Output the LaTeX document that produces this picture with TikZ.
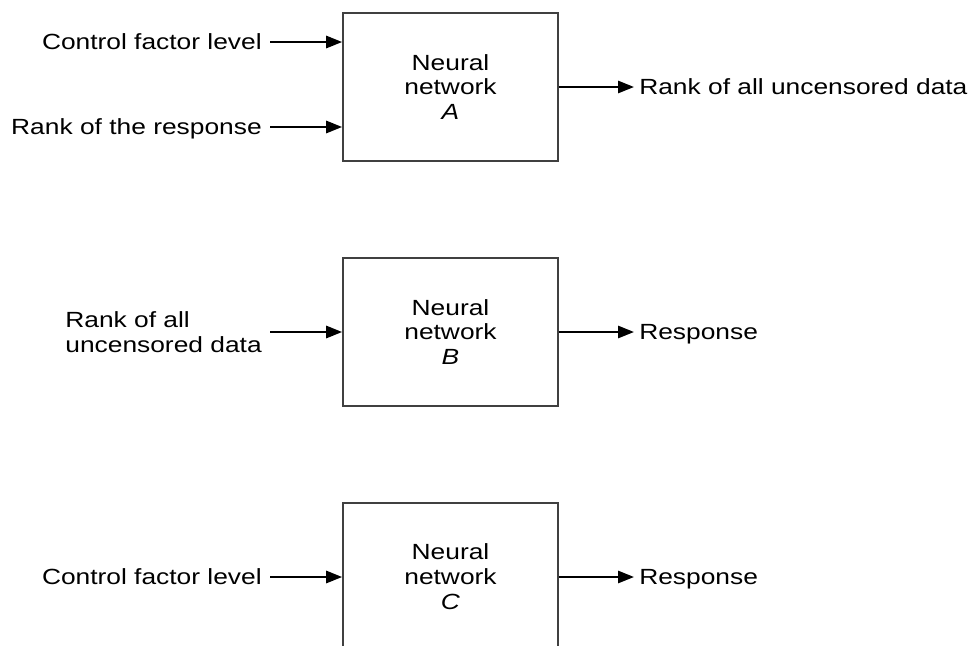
\documentclass[tikz,border=0pt]{standalone}
\usepackage{fontspec}
\setmainfont[FakeStretch=1.2]{Liberation Sans}
\usetikzlibrary{positioning,arrows.meta}

\begin{document}
\begin{tikzpicture}[x=0.02cm,y=-0.02cm]
	\tikzstyle{every node}=[font=\fontsize{12.5}{14.2}\selectfont]
	\tikzstyle{net}=[draw=black!75, line width=1.1pt, minimum width=4.3cm, minimum height=2.96cm, align=center, inner sep=0pt]
	\tikzstyle{inlbl}=[inner xsep=0.16cm, inner ysep=0pt, text height=8.9pt, text depth=0pt]
	\tikzstyle{outlbl}=[inner xsep=0.1cm, inner ysep=0pt, text height=8.9pt, text depth=0pt]
	\tikzstyle{arr}=[line width=1pt, -{Triangle[length=9pt,width=7pt]}]
	\useasboundingbox (0,0) rectangle (971,646);
	\clip (0,0) rectangle (971,646);
	
	\node[net] (A) at (450.5,87) {Neural\\network\\\textit{A}};
	\node[net] (B) at (450.5,332) {Neural\\network\\\textit{B}};
	\node[net] (C) at (450.5,577) {Neural\\network\\\textit{C}};
	
	% network A
	\node[inlbl, anchor=east] (cfA) at ([shift={(-1.44cm,0.9cm)}]A.west) {Control factor level};
	\node[inlbl, anchor=east] (rrA) at ([shift={(-1.44cm,-0.8cm)}]A.west) {Rank of the response};
	\node[outlbl, right=1.5cm of A] (ruA) {Rank of all uncensored data};
	\draw[arr] (cfA.east) -- (cfA.east -| A.west);
	\draw[arr] (rrA.east) -- (rrA.east -| A.west);
	\draw[arr] (A.east) -- (ruA.west);
	
	% network B
	\node[align=left, inner xsep=0.16cm, inner ysep=0pt, left=1.44cm of B] (ruB) {Rank of all\\uncensored data};
	\node[outlbl, right=1.5cm of B] (reB) {Response};
	\draw[arr] (ruB.east) -- (ruB.east -| B.west);
	\draw[arr] (B.east) -- (reB.west);
	
	% network C
	\node[inlbl, left=1.44cm of C] (cfC) {Control factor level};
	\node[outlbl, right=1.5cm of C] (reC) {Response};
	\draw[arr] (cfC.east) -- (C.west);
	\draw[arr] (C.east) -- (reC.west);
\end{tikzpicture}
\end{document}
